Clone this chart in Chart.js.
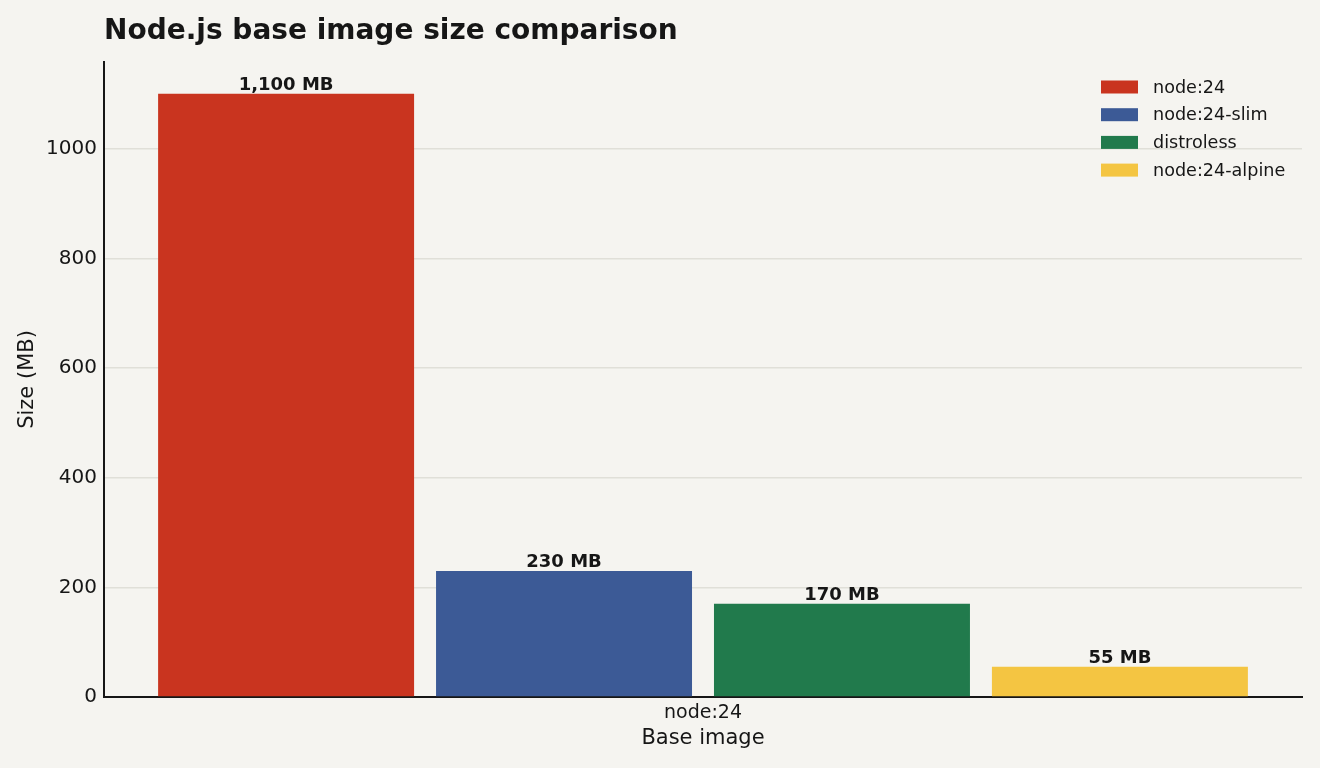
<!DOCTYPE html>
<html>
<head>
<meta charset="utf-8">
<script src="https://cdn.jsdelivr.net/npm/chart.js@4/dist/chart.umd.min.js"></script>
<style>
  html, body { margin: 0; padding: 0; background: #F5F4F0; }
  #wrap { width: 1320px; height: 768px; position: relative; }
</style>
</head>
<body>
<div id="wrap"><canvas id="c"></canvas></div>
<script>
const categories = ['node:24'];
const seriesNames = ['node:24', 'node:24-slim', 'distroless', 'node:24-alpine'];
const seriesValues = [1100, 230, 170, 55];
const seriesColors = ['#C9341F', '#3C5A96', '#217A4C', '#F4C542'];
const yTicks = [0, 200, 400, 600, 800, 1000];
const titleText = 'Node.js base image size comparison';

const FONT = "'DejaVu Sans', sans-serif";
const INK = '#161616';

const datasets = seriesNames.map((name, i) => ({
  label: name,
  data: [seriesValues[i]],
  backgroundColor: seriesColors[i],
  borderWidth: 0,
  categoryPercentage: 0.928,
  barPercentage: 0.921
}));

const customDraw = {
  id: 'customDraw',
  afterDatasetsDraw(chart) {
    const ctx = chart.ctx;
    const area = chart.chartArea;
    ctx.save();
    // value labels
    ctx.font = "bold 18px " + FONT;
    ctx.fillStyle = INK;
    ctx.textAlign = 'center';
    ctx.textBaseline = 'alphabetic';
    chart.data.datasets.forEach((ds, i) => {
      const meta = chart.getDatasetMeta(i);
      meta.data.forEach((bar, j) => {
        const v = ds.data[j];
        ctx.fillText(v.toLocaleString('en-US') + ' MB', bar.x, bar.y - 4);
      });
    });
    // legend
    ctx.font = "17.6px " + FONT;
    ctx.textAlign = 'left';
    ctx.textBaseline = 'middle';
    const bx = area.right - 201;
    chart.data.datasets.forEach((ds, i) => {
      const cy = area.top + 25 + i * 27.7;
      ctx.fillStyle = ds.backgroundColor;
      ctx.fillRect(bx, cy - 6.5, 37, 13);
      ctx.fillStyle = INK;
      ctx.fillText(ds.label, bx + 52, cy + 1);
    });
    // title
    ctx.font = "bold 28px " + FONT;
    ctx.textBaseline = 'middle';
    ctx.fillStyle = INK;
    ctx.fillText(titleText, area.left, 32);
    ctx.restore();
  }
};

new Chart(document.getElementById('c'), {
  type: 'bar',
  data: { labels: categories, datasets },
  options: {
    responsive: true,
    maintainAspectRatio: false,
    animation: false,
    layout: { padding: { top: 62, right: 18, left: 0, bottom: 0 } },
    plugins: {
      legend: { display: false },
      tooltip: { enabled: false },
      title: { display: false }
    },
    scales: {
      x: {
        grid: { display: false, drawTicks: false },
        border: { display: true, color: INK, width: 2 },
        ticks: { color: INK, font: { family: FONT, size: 19 }, padding: 5 },
        title: { display: true, text: 'Base image', color: INK, font: { family: FONT, size: 21 }, padding: { top: 2, bottom: 17 } },
        afterFit(scale) { scale.height = 71; }
      },
      y: {
        min: 0,
        max: 1158,
        afterBuildTicks(scale) { scale.ticks = yTicks.map(v => ({ value: v })); },
        grid: { color: '#E0DFD8', lineWidth: 1.5, drawTicks: false },
        border: { display: true, color: INK, width: 2 },
        ticks: { color: INK, font: { family: FONT, size: 20 }, padding: 7, includeBounds: false,
                 callback: (v) => String(v) },
        title: { display: true, text: 'Size (MB)', color: INK, font: { family: FONT, size: 21 }, padding: { top: 15, bottom: 4 } },
        afterFit(scale) { scale.width = 104; }
      }
    }
  },
  plugins: [customDraw]
});
</script>
</body>
</html>
